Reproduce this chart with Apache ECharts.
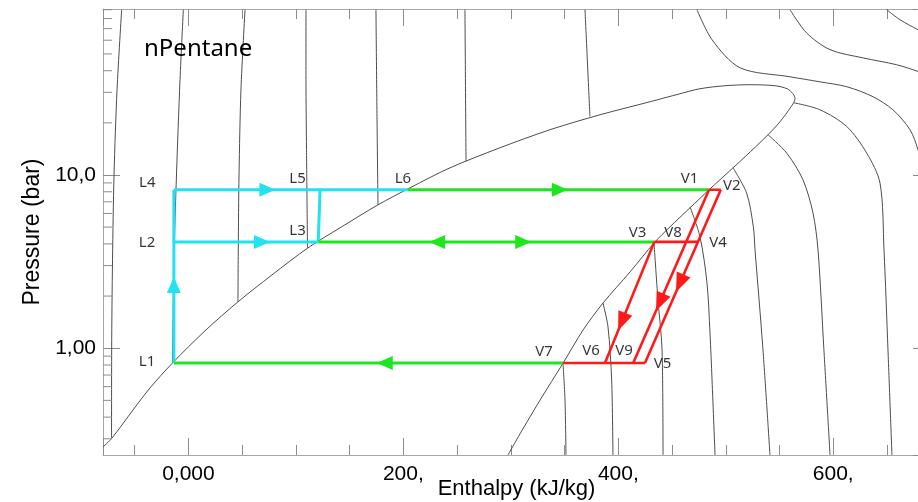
<!DOCTYPE html>
<html><head><meta charset="utf-8">
<script src="https://cdn.jsdelivr.net/npm/echarts@6/dist/echarts.min.js"></script>
<style>html,body{margin:0;padding:0;background:#fff}#c{width:918px;height:502px}</style>
</head><body><div id="c"></div>
<script>
// ---- axis ranges / ticks ----
const H_MIN = -79.46, H_MAX = 690.0;
const P_MIN = 0.2418, P_MAX = 90.85;
const hMajorTicks = [0, 200, 400, 600];
const hMajorLabels = ['0,000', '200,', '400,', '600,'];
const pMajorTicks = [1, 10];
const pMajorLabels = ['1,00', '10,0'];
const pMinorTicks = [0.3,0.4,0.5,0.6,0.7,0.8,0.9,2,3,4,5,6,7,8,9,20,30,40,50,60,70,80,90];

// ---- saturation dome (h kJ/kg, P bar) ----
const satDome = [[-79.5,0.269],[-71.1,0.303],[-51.5,0.440],[-35.7,0.590],[-15.0,0.819],[15.4,1.259],[46.1,1.851],[77.8,2.651],[111.3,3.797],[141.1,4.955],[176.4,6.726],[206.2,8.437],[243.4,11.0],[289.9,14.36],[336.4,18.25],[383.0,22.27],[429.5,26.48],[457.4,29.45],[476.0,31.48],[499.3,32.76],[522.5,33.2],[545.8,32.76],[557.0,31.48],[562.5,29.45],[564.4,27.56],[560.7,24.77],[550.4,20.29],[539.3,17.07],[517.9,12.74],[494.6,9.383],[484.4,8.214],[466.7,6.464],[448.1,5.021],[433.3,4.058],[411.0,2.760],[385.9,1.827],[367.3,1.276],[348.7,0.822],[327.3,0.503],[308.5,0.320],[297.4,0.242]];

// ---- isotherms ----
const isoL1 = [[-62.1,90],[-66.4,31.1],[-69.2,10.0],[-70.6,3.24],[-71.4,0.978],[-71.5,0.303]];
const isoL2 = [[-4.7,90],[-7.8,35.5],[-11.1,10.0],[-13.4,3.24],[-14.8,0.822]];
const isoL3 = [[52.7,90],[48.9,31.1],[47.1,10.0],[46.4,3.70],[46.1,1.851]];
const isoL4 = [[109.4,90],[109.4,35.5],[109.9,14.0],[110.8,3.797]];
const isoL5 = [[174.5,90],[175.5,20.8],[176.4,6.73]];
const isoL6 = [[257.3,90],[258.3,12.0]];
const isoL7 = [[369.0,90],[373.6,21.8]];
const isoS1 = [[473.2,90],[487.2,60.4],[513.2,41.6],[559.7,36.9],[587.6,34.5],[612.8,32.3],[637.0,28.3],[655.5,23.8],[671.4,18.25],[678.8,13.98],[684,10]];
const isoS2 = [[559.7,90],[575.3,66.0],[597.0,52.9],[627.9,47.4],[659.0,43.3],[678.8,39.6],[690,37]];
const isoS3 = [[649.7,90],[662.1,78.8],[678.8,69.0],[690,64]];
const isoN  = [[563.5,26.1],[587.6,23.8],[612.5,19.06],[631.1,13.38],[643.5,8.98],[647.2,3.70],[650.9,0.978],[654.6,0.242]];
const isoVf = [[539.3,17.07],[556.7,13.38],[571.8,9.383],[581.1,6.047],[585.8,3.698],[591.3,0.978],[597.0,0.242]];
const isoVe = [[506.7,11.0],[519.4,7.86],[525.6,5.04],[527.2,3.698],[534.6,0.978],[541.1,0.242]];
const isoVd = [[466.7,6.55],[476.0,4.395],[482.5,2.384],[485.3,1.226],[487.2,0.656],[490.0,0.242]];
const isoVc = [[433.2,4.058],[436.9,1.901],[440.7,0.978],[441.6,0.242]];
const isoVb = [[385.7,1.827],[390.4,1.328],[393.8,0.656],[395.0,0.242]];
const isoVa = [[348.5,0.822],[350.4,0.503],[351.3,0.242]];
const grayCurves = [satDome, isoL1, isoL2, isoL3, isoL4, isoL5, isoL6, isoL7, isoS1, isoS2, isoS3, isoN, isoVf, isoVe, isoVd, isoVc, isoVb, isoVa];

// ---- cycle state points ----
const stateNames = ['L1','L2','L4','L3','L5','L6','V1','V2','V3','V4','V7','V6','V9','V5'];
const stateH     = [-13.5,-13.5,-13.5,120.8,122.5,204.0,484.4,495.3,433.5,474.2,348.5,387.6,413.9,424.8];
const stateP     = [0.822,4.11,8.214,4.11,8.214,8.214,8.214,8.214,4.11,4.11,0.822,0.822,0.822,0.822];

const cyanSegs  = [['L1','L4'],['L4','L6'],['L2','L3'],['L5','L3']];
const greenSegs = [['L6','V1'],['L3','V3'],['L1','V7']];
const redSegs   = [['V1','V2'],['V2','V5'],['V1','V9'],['V3','V4'],['V3','V6'],['V7','V5']];

const cyanArrows  = [['L1','L4',0.45],['L4','L6',0.40],['L2','L3',0.61]];
const greenArrows = [['L6','V1',0.505],['V3','L3',0.646],['L3','V3',0.61],['V7','L1',0.458]];
const redArrows   = [['V3','V6',0.66],['V1','V9',0.65],['V2','V5',0.54]];

// ---- point labels ----
const labelNames = ['L1','L2','L4','L3','L5','L6','V1','V2','V3','V8','V4','V7','V6','V9','V5'];
const labelH     = [-38.5,-38.5,-38.3,101.5,101.5,199.6,466.2,505.5,418.0,450.9,492.7,330.9,374.6,405.3,441.1];
const labelP     = [0.837,4.08,9.07,4.76,9.506,9.506,9.506,8.66,4.667,4.667,4.086,0.952,0.965,0.965,0.811];

const CYAN = '#22e2f2', GREEN = '#1ee61e', RED = '#ff1a1a', GRAY = '#4d4d4d';
const AXC = '#a8a8a8', TKC = '#8c8c8c';

function pt(n){ const i = stateNames.indexOf(n); return [stateH[i], stateP[i]]; }

const chart = echarts.init(document.getElementById('c'), null, {renderer:'canvas'});

const xBase = {type:'value', min:H_MIN, max:H_MAX, splitNumber:4, splitLine:{show:false},
  axisLine:{show:true, onZero:false, lineStyle:{color:AXC}},
  axisTick:{show:true, inside:true, length:17, lineStyle:{color:TKC}},
  minorTick:{show:true, splitNumber:4, length:10, lineStyle:{color:TKC}}};
const yBase = {type:'log', logBase:10, min:P_MIN, max:P_MAX, splitLine:{show:false},
  axisLine:{show:true, onZero:false, lineStyle:{color:AXC}},
  axisTick:{show:true, inside:true, length:17, lineStyle:{color:TKC}}};

const series = [];
grayCurves.forEach(c => series.push({type:'line', data:c, showSymbol:false, symbol:'none', smooth:0.3,
  lineStyle:{color:GRAY, width:1}, silent:true, z:2}));
function segSeries(segs, color, w){
  segs.forEach(s => series.push({type:'line', data:[pt(s[0]), pt(s[1])], symbol:'none', showSymbol:false,
    lineStyle:{color:color, width:w}, silent:true, z:5}));
}
segSeries(cyanSegs, CYAN, 3);
segSeries(greenSegs, GREEN, 3);
segSeries(redSegs, RED, 2.6);

// y minor ticks (log axis) drawn through the axis scale
series.push({type:'custom', silent:true, z:3, clip:false,
  data: pMinorTicks.map(v => [H_MIN, v]),
  renderItem:(params, api) => {
    const p = api.coord([api.value(0), api.value(1)]);
    return {type:'line', shape:{x1:p[0], y1:p[1], x2:p[0]+9, y2:p[1]}, style:{stroke:TKC, lineWidth:1}};
  }});

series.push({type:'scatter', symbol:'circle', symbolSize:1, itemStyle:{color:'rgba(0,0,0,0)'}, silent:true, z:10,
  data: labelNames.map((n,i) => ({name:n, value:[labelH[i], labelP[i]]})),
  label:{show:true, position:'inside', formatter:'{b}', color:'#000', fontSize:15, fontFamily:'Noto Sans'}});

const option = {
  animation:false,
  backgroundColor:'#fff',
  title:{text:'nPentane', left:139, top:32, textStyle:{fontFamily:'Noto Sans', fontSize:24, fontWeight:'normal', color:'#000'}},
  grid:{left:103, top:9, width:827, height:446, show:false, outerBoundsMode:'none', containLabel:false},
  xAxis:[
    Object.assign({}, xBase, {position:'bottom', name:'Enthalpy (kJ/kg)', nameLocation:'middle', nameGap:23, nameMoveOverlap:false,
      nameTextStyle:{fontFamily:'Liberation Sans', fontSize:22, color:'#000', verticalAlign:'top'},
      axisLabel:{show:true, margin:9, showMinLabel:false, showMaxLabel:false, fontFamily:'Liberation Sans', fontSize:21, color:'#000',
        formatter:v => { const i = hMajorTicks.indexOf(Math.round(v)); return (i >= 0 && Math.abs(v - hMajorTicks[i]) < 1e-6) ? hMajorLabels[i] : ''; }}}),
    Object.assign({}, xBase, {position:'top', axisLabel:{show:false}})
  ],
  yAxis:[
    Object.assign({}, yBase, {position:'left', name:'Pressure (bar)', nameLocation:'middle', nameGap:58, nameRotate:90,
      nameTextStyle:{fontFamily:'Liberation Sans', fontSize:23, color:'#000'},
      axisLabel:{show:true, margin:7, showMinLabel:false, showMaxLabel:false, fontFamily:'Liberation Sans', fontSize:21, color:'#000',
        formatter:v => { for (let i=0;i<pMajorTicks.length;i++){ if (Math.abs(v - pMajorTicks[i]) < 1e-6) return pMajorLabels[i]; } return ''; }}}),
    Object.assign({}, yBase, {position:'right', axisLabel:{show:false}})
  ],
  series: series
};
chart.setOption(option);

// arrows placed along segments via the axis scales
function arrowSeries(list, color, size){
  const data = list.map(([a, b, t]) => {
    const p1 = chart.convertToPixel({xAxisIndex:0, yAxisIndex:0}, pt(a));
    const p2 = chart.convertToPixel({xAxisIndex:0, yAxisIndex:0}, pt(b));
    const px = [p1[0] + (p2[0]-p1[0])*t, p1[1] + (p2[1]-p1[1])*t];
    const ang = Math.atan2(-(p2[1]-p1[1]), p2[0]-p1[0]) * 180 / Math.PI;
    return {value: chart.convertFromPixel({xAxisIndex:0, yAxisIndex:0}, px), symbolRotate: ang - 90};
  });
  return {type:'scatter', symbol:'triangle', symbolSize:size, itemStyle:{color:color, opacity:1}, silent:true, z:8, data:data};
}
series.push(arrowSeries(cyanArrows, CYAN, [14,16]));
series.push(arrowSeries(greenArrows, GREEN, [14,16]));
series.push(arrowSeries(redArrows, RED, [15,19]));
chart.setOption({series: series});
</script></body></html>
